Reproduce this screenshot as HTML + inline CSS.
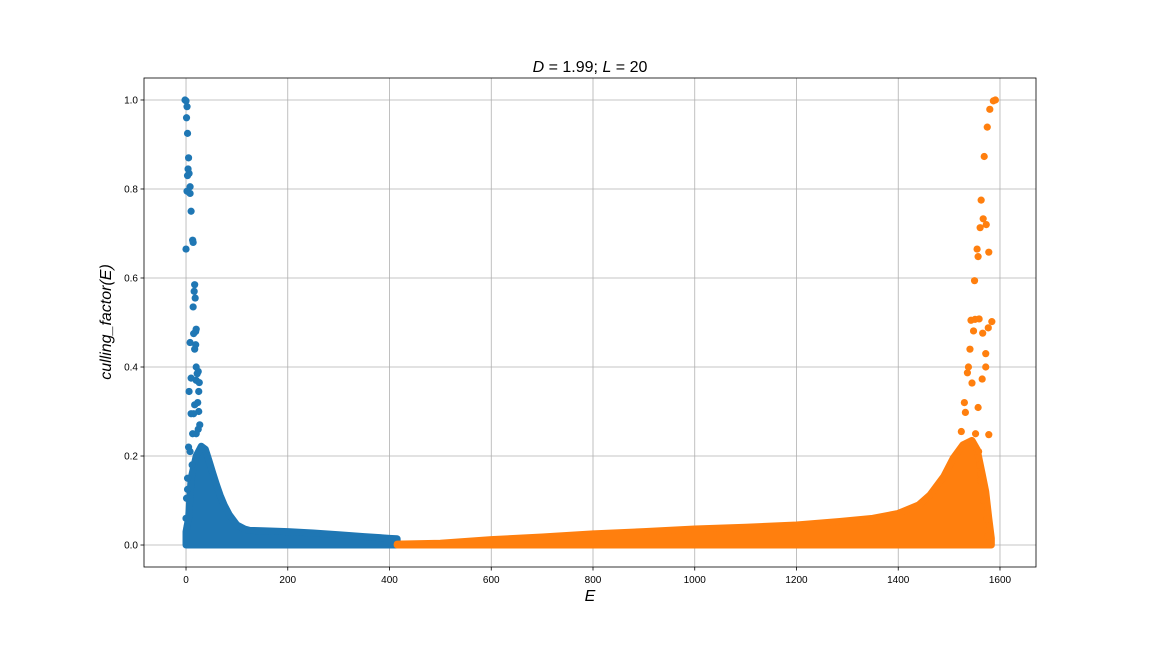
<!DOCTYPE html>
<html><head><meta charset="utf-8"><style>
body{margin:0;background:#fff;}
svg text{font-family:"Liberation Sans","DejaVu Sans",sans-serif;}
</style></head><body>
<svg id="chart" width="1152" height="648" xmlns="http://www.w3.org/2000/svg">
<rect width="1152" height="648" fill="#fff"/>
<g id="grid"></g><g id="marks"></g><g id="axes"></g>
</svg>
<script>
const xTicks=[0,200,400,600,800,1000,1200,1400,1600];
const yTicks=[0.0,0.2,0.4,0.6,0.8,1.0];
const blueEnvE=[0,5,10,20,30,38,45,53,60,67,75,85,100,115,125,150,200,250,300,350,400,415];
const blueEnvV=[0.03,0.06,0.15,0.2,0.222,0.215,0.19,0.16,0.135,0.112,0.09,0.068,0.045,0.036,0.033,0.032,0.03,0.027,0.023,0.019,0.015,0.014];
const orangeEnvE=[415,500,600,700,800,900,1000,1100,1200,1285,1350,1400,1440,1462,1490,1508,1527,1545,1555,1565,1572,1578,1583];
const orangeEnvV=[0.002,0.004,0.012,0.018,0.025,0.03,0.036,0.04,0.045,0.053,0.06,0.071,0.09,0.112,0.155,0.195,0.225,0.235,0.215,0.16,0.12,0.06,0.015];
const blueE=[-2,0,2,1,3,5,4,6,3,8,2,8,10,13,14,0,17,16,18,14,20,19,15,8,19,17,20,24,22,10,20,26,6,25,17,23,10,25,15,27,24,20,13,5,8,12,3,3,1,0,2];
const blueV=[1.0,0.998,0.985,0.96,0.925,0.87,0.845,0.835,0.83,0.805,0.795,0.79,0.75,0.685,0.68,0.665,0.585,0.57,0.555,0.535,0.485,0.48,0.475,0.455,0.45,0.44,0.40,0.39,0.385,0.375,0.37,0.365,0.345,0.345,0.315,0.32,0.295,0.30,0.295,0.27,0.26,0.25,0.25,0.22,0.21,0.18,0.15,0.125,0.105,0.06,0.04];
const orangeE=[1591,1587,1580,1575,1569,1563,1567,1573,1561,1555,1557,1578,1550,1543,1551,1559,1584,1577,1548,1566,1541,1572,1538,1572,1536,1565,1545,1530,1557,1532,1524,1578,1552,1562,1562,1560,1558,1568,1574,1576];
const orangeV=[1.0,0.998,0.979,0.939,0.873,0.775,0.733,0.72,0.713,0.665,0.648,0.658,0.594,0.505,0.507,0.508,0.502,0.488,0.481,0.476,0.44,0.43,0.40,0.40,0.387,0.373,0.364,0.32,0.309,0.298,0.255,0.248,0.25,0.16,0.145,0.18,0.21,0.10,0.058,0.02];

const L=144,R=1036,T=78,B=567;
const X0=-82.6,X1=1670.8,Y0=-0.0494,Y1=1.0494;
const sx=e=>L+(e-X0)/(X1-X0)*(R-L);
const sy=v=>B-(v-Y0)/(Y1-Y0)*(B-T);
const NS="http://www.w3.org/2000/svg";
function mk(tag,attrs,parent){const el=document.createElementNS(NS,tag);for(const k in attrs)el.setAttribute(k,attrs[k]);parent.appendChild(el);return el;}
const grid=document.getElementById('grid'),marks=document.getElementById('marks'),axes=document.getElementById('axes');

xTicks.forEach(t=>{
  const gl=mk('line',{x1:sx(t),x2:sx(t),y1:T,y2:B,stroke:'#b0b0b0','stroke-width':0.8},grid);
  
  
  mk('line',{x1:sx(t),x2:sx(t),y1:B,y2:B+3.5,stroke:'#000','stroke-width':0.8},axes);
  const tx=mk('text',{x:sx(t),y:B+16,'font-size':10,'text-anchor':'middle'},axes);
  tx.textContent=String(t);
  
  
});
yTicks.forEach(t=>{
  const gl=mk('line',{x1:L,x2:R,y1:sy(t),y2:sy(t),stroke:'#b0b0b0','stroke-width':0.8},grid);
  
  
  mk('line',{x1:L-3.5,x2:L,y1:sy(t),y2:sy(t),stroke:'#000','stroke-width':0.8},axes);
  const tx=mk('text',{x:L-6,y:sy(t)+3.5,'font-size':10,'text-anchor':'end'},axes);
  tx.textContent=t.toFixed(1);
  
  
});

function envelope(E,V,color,name){
  let pts=E.map((e,i)=>sx(e)+','+sy(V[i]));
  pts.push(sx(E[E.length-1])+','+sy(0));pts.push(sx(E[0])+','+sy(0));
  const p=mk('polygon',{points:pts.join(' '),fill:color,stroke:color,'stroke-width':7,'stroke-linejoin':'round'},marks);
  
  
}
envelope(blueEnvE,blueEnvV,'#1f77b4','blue-dense-cluster');
envelope(orangeEnvE,orangeEnvV,'#ff7f0e','orange-dense-cluster');
function pts(E,V,color,name){
  E.forEach((e,i)=>{
    const c=mk('circle',{cx:sx(e),cy:sy(V[i]),r:3.6,fill:color},marks);
    
    
  });
}
pts(blueE,blueV,'#1f77b4','blue-point');
pts(orangeE,orangeV,'#ff7f0e','orange-point');

const fr=mk('rect',{x:L,y:T,width:R-L,height:B-T,fill:'none',stroke:'#000','stroke-width':0.8},axes);


const title=mk('text',{x:(L+R)/2,y:72,'font-size':16,'text-anchor':'middle'},axes);
title.innerHTML='<tspan font-style="italic">D</tspan> = 1.99; <tspan font-style="italic">L</tspan> = 20';


const xl=mk('text',{x:(L+R)/2,y:601,'font-size':16,'text-anchor':'middle','font-style':'italic'},axes);
xl.textContent='E';


const yl=mk('text',{x:0,y:0,'font-size':16,'text-anchor':'middle','font-style':'italic',transform:'translate(111,322) rotate(-90)'},axes);
yl.textContent='culling_factor(E)';


</script>
</body></html>
